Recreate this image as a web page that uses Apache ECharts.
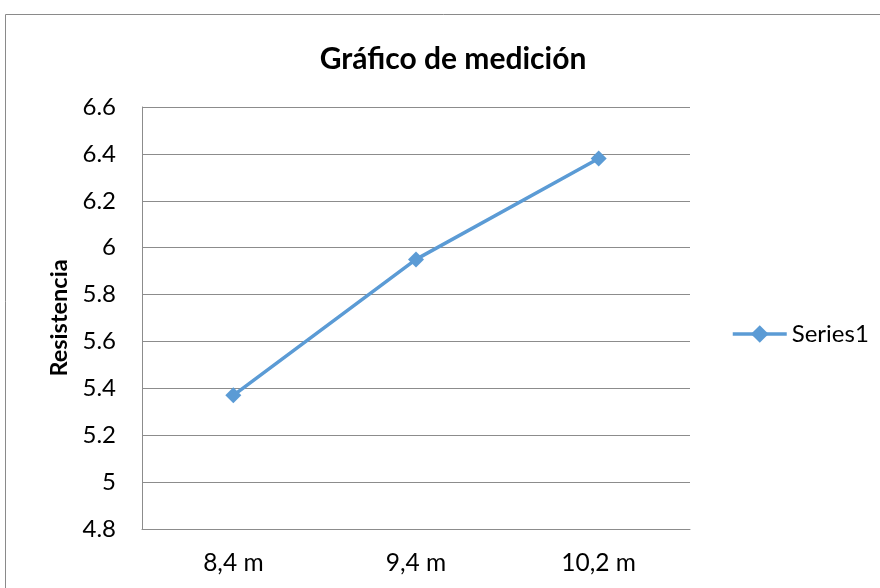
<!DOCTYPE html>
<html>
<head>
<meta charset="utf-8">
<script src="https://cdn.jsdelivr.net/npm/echarts@6/dist/echarts.min.js"></script>
<style>
  html, body { margin: 0; padding: 0; background: #fff; }
  #chart { width: 880px; height: 588px; }
</style>
</head>
<body>
<div id="chart"></div>
<script>
// Measurement data: distance categories and resistance readings
const categories = ['8,4 m', '9,4 m', '10,2 m'];
const resistencia = [5.37, 5.95, 6.38];
const yMin = 4.8;
const yMax = 6.6;
const yStep = 0.2;

const FONT = 'Lato, "Open Sans", sans-serif';
const BLUE = '#5B9BD5';
const GRID = '#8c8c8c';

const chart = echarts.init(document.getElementById('chart'));
chart.setOption({
  backgroundColor: '#fff',
  animation: false,
  graphic: [{
    type: 'rect',
    shape: { x: 5.5, y: 14.5, width: 900, height: 600 },
    style: { fill: 'none', stroke: '#8a8a8a', lineWidth: 1 },
    silent: true
  }],
  title: {
    text: 'Gráfico de medición',
    left: 448,
    top: 39,
    textAlign: 'center',
    textStyle: { fontFamily: FONT, fontSize: 30, fontWeight: 'bold', color: '#000' }
  },
  legend: {
    data: ['Series1'],
    left: 731,
    top: 322,
    padding: 0,
    itemWidth: 54,
    itemHeight: 22,
    itemGap: 4,
    lineStyle: { width: 3.5 },
    textStyle: { fontFamily: FONT, fontSize: 24, color: '#000' }
  },
  grid: { left: 142, right: 190, top: 107, bottom: 59, containLabel: false },
  xAxis: {
    type: 'category',
    data: categories,
    boundaryGap: true,
    axisLine: { lineStyle: { color: GRID, width: 1 } },
    axisTick: { show: false },
    axisLabel: { fontFamily: FONT, fontSize: 24.5, color: '#000', margin: 22 }
  },
  yAxis: {
    type: 'value',
    min: yMin,
    max: yMax,
    interval: yStep,
    name: 'Resistencia',
    nameLocation: 'middle',
    nameGap: 70,
    nameRotate: 90,
    nameTextStyle: { fontFamily: FONT, fontSize: 23.5, fontWeight: 'bold', color: '#000' },
    axisLine: { show: true, lineStyle: { color: GRID, width: 1 } },
    axisTick: { show: false },
    splitLine: { lineStyle: { color: GRID, width: 1 } },
    axisLabel: {
      fontFamily: FONT, fontSize: 24, color: '#000', margin: 26,
      formatter: v => String(parseFloat(v.toFixed(1)))
    }
  },
  series: [{
    name: 'Series1',
    type: 'line',
    data: resistencia,
    symbol: 'diamond',
    symbolSize: 16,
    lineStyle: { color: BLUE, width: 3.5 },
    itemStyle: { color: BLUE },
    emphasis: { disabled: true }
  }]
});
</script>
</body>
</html>
